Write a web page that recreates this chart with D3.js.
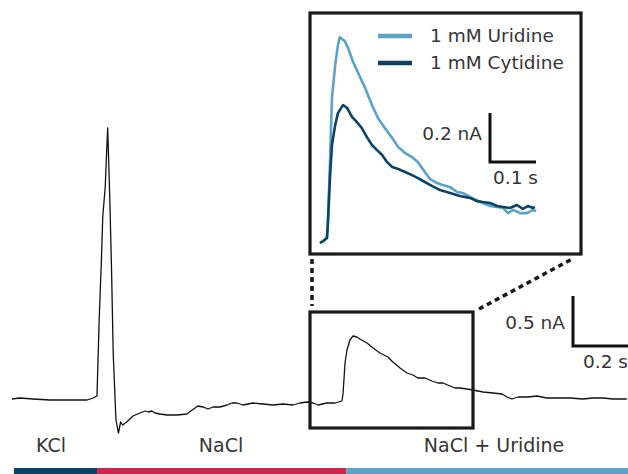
<!DOCTYPE html>
<html><head><meta charset="utf-8">
<script src="https://cdn.jsdelivr.net/npm/d3@7"></script>
<style>body{margin:0;background:#fff}svg{display:block}</style>
</head><body>
<svg id="c" width="628" height="474"></svg>
<script>
// Main trace: time (ms) and current (pA)
const mainT = [0,29,76,138,200,273,295,309,317,326,330,339,344,348,356,362,368,378,387,395,402,417,440,465,484,495,509,520,538,564,600,636,655,676,695,713,731,756,782,800,818,840,876,913,949,986,1022,1047,1073,1095,1113,1145,1175,1200,1204,1211,1218,1229,1240,1254,1265,1291,1313,1338,1367,1385,1411,1436,1458,1476,1502,1527,1549,1567,1593,1611,1629,1654,1676,1713,1749,1782,1800,1818,1840,1876,1909,1945,1982,2029,2076,2113,2149,2185,2236];
const mainI = [10,20,10,0,0,0,20,40,800,1470,1830,2130,2470,2720,1970,1300,470,-200,-330,-220,-250,-220,-160,-130,-110,-120,-110,-130,-140,-150,-150,-140,-100,-60,-70,-90,-70,-70,-50,-30,-30,-50,-30,-40,-50,-40,-50,-30,-20,-30,-50,-30,-30,-10,70,370,500,600,640,630,610,570,520,470,430,380,320,270,250,220,220,190,170,170,140,120,120,110,100,80,70,60,30,10,30,30,40,20,20,20,10,20,20,10,10];

// Inset traces: time (ms) and current (pA)
const uriT = [0,7,15,17,22,26,33,39,43,54,61,72,83,98,113,126,141,157,170,185,200,213,228,239,254,267,283,298,311,326,341,354,370,385,398,409,420,435,450,463,470];
const uriI = [0,8,20,73,347,592,726,808,840,824,796,739,694,633,563,510,469,428,392,367,351,330,290,261,245,237,228,208,204,188,175,163,151,147,143,122,135,122,122,135,131];
const cytT = [0,7,15,17,22,26,33,39,50,59,70,80,91,102,113,124,135,146,157,170,185,200,213,228,239,261,283,304,326,341,354,370,385,398,413,428,441,452,463,467];
const cytI = [0,8,20,73,277,400,481,530,563,551,514,494,469,432,400,379,359,330,310,302,290,277,265,249,237,216,204,192,184,171,167,163,151,147,143,155,139,151,143,147];

const seriesNames = ["1 mM Uridine","1 mM Cytidine"];
const phaseNames = ["KCl","NaCl","NaCl + Uridine"];
const phaseStart = [7,309,1215];
const phaseEnd = [309,1215,2240];
const phaseLabelT = [142,760,1753];
const mainScaleBar = {nA:0.5, s:0.2};
const insetScaleBar = {nA:0.2, s:0.1};

const C = {light:"#5aa2c6", dark:"#0b4366", red:"#d0244c", text:"#353535"};
const FONT = "'DejaVu Sans', sans-serif";

const svg = d3.select("#c");

// scales
const x = d3.scaleLinear().domain([0,2240]).range([12,628]);
const y = d3.scaleLinear().domain([0,1000]).range([400,300]);
const xi = d3.scaleLinear().domain([0,100]).range([320,366]);
const yi = d3.scaleLinear().domain([0,1000]).range([243,-2]);

// main trace
const mainData = mainT.map((t,i)=>[t,mainI[i]]);
svg.append("path").datum(mainData)
  .attr("d", d3.line().x(d=>x(d[0])).y(d=>y(d[1])))
  .attr("fill","none").attr("stroke","#111").attr("stroke-width",1.3).attr("stroke-linejoin","round");

// zoom rectangle
svg.append("rect").attr("x",310).attr("y",312).attr("width",163).attr("height",116)
  .attr("fill","none").attr("stroke","#1a1a1a").attr("stroke-width",3.2);

// inset rectangle
svg.append("rect").attr("x",310).attr("y",13).attr("width",271).attr("height",241)
  .attr("fill","none").attr("stroke","#1a1a1a").attr("stroke-width",3.2);

// dotted connectors
svg.append("line").attr("x1",312).attr("y1",259).attr("x2",312).attr("y2",306)
  .attr("stroke","#1a1a1a").attr("stroke-width",3.5).attr("stroke-dasharray","5,4");
svg.append("line").attr("x1",479).attr("y1",309).attr("x2",574).attr("y2",258)
  .attr("stroke","#1a1a1a").attr("stroke-width",3.5).attr("stroke-dasharray","5,4");

// inset traces
const lineI = d3.line().x(d=>xi(d[0])).y(d=>yi(d[1]));
svg.append("path").datum(uriT.map((t,i)=>[t,uriI[i]])).attr("d",lineI)
  .attr("fill","none").attr("stroke",C.light).attr("stroke-width",2.6).attr("stroke-linejoin","round");
svg.append("path").datum(cytT.map((t,i)=>[t,cytI[i]])).attr("d",lineI)
  .attr("fill","none").attr("stroke",C.dark).attr("stroke-width",2.6).attr("stroke-linejoin","round");

// legend
[C.light,C.dark].forEach((col,i)=>{
  svg.append("line").attr("x1",378).attr("x2",412).attr("y1",36+27*i).attr("y2",36+27*i)
    .attr("stroke",col).attr("stroke-width",4.5);
  svg.append("text").attr("x",430).attr("y",42+27*i).text(seriesNames[i])
    .attr("font-family",FONT).attr("font-size",18.5).attr("fill",C.text);
});

// main scale bar
const mbX = 573, mbY = 346;
const mbH = y(0)-y(mainScaleBar.nA*1000), mbW = x(mainScaleBar.s*1000)-x(0);
svg.append("path").attr("d",`M${mbX},${mbY-mbH}V${mbY}H${mbX+mbW}`)
  .attr("fill","none").attr("stroke","#111").attr("stroke-width",3);
svg.append("text").attr("x",565).attr("y",329).attr("text-anchor","end").text(mainScaleBar.nA+" nA")
  .attr("font-family",FONT).attr("font-size",18.5).attr("fill",C.text);
svg.append("text").attr("x",583).attr("y",368).text(mainScaleBar.s+" s")
  .attr("font-family",FONT).attr("font-size",18.5).attr("fill",C.text);

// inset scale bar
const ibX = 490, ibY = 162;
const ibH = yi(0)-yi(insetScaleBar.nA*1000), ibW = xi(insetScaleBar.s*1000)-xi(0);
svg.append("path").attr("d",`M${ibX},${ibY-ibH}V${ibY}H${ibX+ibW}`)
  .attr("fill","none").attr("stroke","#111").attr("stroke-width",3);
svg.append("text").attr("x",482).attr("y",140).attr("text-anchor","end").text(insetScaleBar.nA+" nA")
  .attr("font-family",FONT).attr("font-size",18.5).attr("fill",C.text);
svg.append("text").attr("x",493).attr("y",184).text(insetScaleBar.s+" s")
  .attr("font-family",FONT).attr("font-size",18.5).attr("fill",C.text);

// phase labels and bars
const phaseColors = [C.dark,C.red,C.light];
phaseNames.forEach((n,i)=>{
  svg.append("rect").attr("x",x(phaseStart[i])).attr("y",468)
    .attr("width",x(phaseEnd[i])-x(phaseStart[i])).attr("height",6).attr("fill",phaseColors[i]);
  svg.append("text").attr("x",x(phaseLabelT[i])).attr("y",452).attr("text-anchor","middle").text(n)
    .attr("font-family",FONT).attr("font-size",19).attr("fill",C.text);
});
</script>
</body></html>
